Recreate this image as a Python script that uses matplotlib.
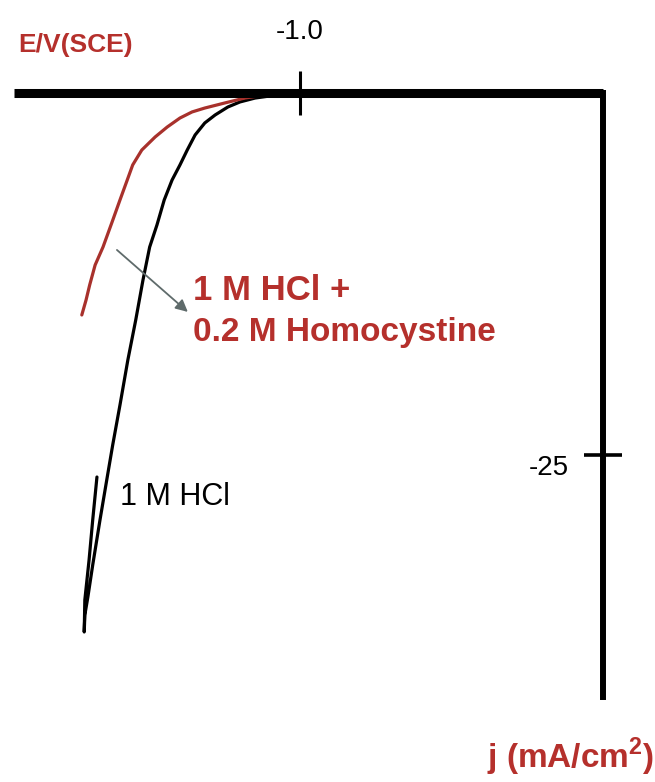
import matplotlib
matplotlib.use('Agg')
import matplotlib.pyplot as plt

# cathodic polarization curves, E in V(SCE), j in mA/cm2
E_hcl = [-1.000, -1.021, -1.050, -1.074, -1.099, -1.119, -1.140, -1.157, -1.173, -1.186,
         -1.198, -1.211, -1.224, -1.236, -1.248, -1.259, -1.271, -1.284, -1.297, -1.309,
         -1.318, -1.330, -1.342, -1.350, -1.355, -1.356,
         -1.355, -1.348, -1.342, -1.335]
j_hcl = [0.00, -0.07, -0.21, -0.35, -0.62, -0.97, -1.52, -2.07, -2.90, -3.94,
         -4.97, -6.01, -7.39, -9.12, -10.64, -12.91, -15.68, -18.44, -21.55, -24.31,
         -26.52, -29.49, -32.60, -34.81, -36.05, -37.22,
         -35.01, -32.25, -29.49, -26.52]

E_hcy = [-1.030, -1.058, -1.091, -1.124, -1.157, -1.178, -1.198, -1.219, -1.239, -1.261,
         -1.276, -1.285, -1.297, -1.310, -1.325, -1.338, -1.347, -1.353, -1.360]
j_hcy = [0.00, -0.14, -0.35, -0.69, -1.04, -1.31, -1.73, -2.35, -3.04, -3.94,
         -4.97, -6.01, -7.39, -8.91, -10.64, -11.88, -13.26, -14.30, -15.33]

E_ticks = [-1.0]
E_ticklabels = ['-1.0']
j_ticks = [-25]
j_ticklabels = ['-25']

plt.rcParams['font.family'] = ['Liberation Sans', 'DejaVu Sans']

red = '#b5302c'

fig = plt.figure(figsize=(6.55, 7.82), dpi=100)
ax = fig.add_axes([0, 0, 1, 1])
ax.set_xlim(-1.495, -0.414)
ax.set_ylim(-47.58, 6.42)

ax.plot(E_hcl, j_hcl, color='black', lw=2.3, solid_capstyle='round')
ax.plot(E_hcy, j_hcy, color='#a8312c', lw=2.3, solid_capstyle='round')

# axes cross at the top right: E axis along j = 0, j axis at E = -0.5
for s in ['bottom', 'right']:
    ax.spines[s].set_visible(False)
ax.spines['top'].set_position(('data', 0))
ax.spines['top'].set_bounds(-1.472, -0.5)
ax.spines['top'].set_linewidth(6.5)
ax.spines['top'].set_capstyle('butt')
ax.spines['left'].set_position(('data', -0.5))
ax.spines['left'].set_bounds(-41.7, 0)
ax.spines['left'].set_linewidth(4.3)

ax.xaxis.set_ticks_position('top')
ax.set_xticks(E_ticks)
ax.set_xticklabels(E_ticklabels)
ax.set_yticks(j_ticks)
ax.set_yticklabels(j_ticklabels)
ax.tick_params(axis='x', direction='inout', length=31, width=2.2, pad=19, labelsize=20)
ax.tick_params(axis='y', direction='inout', length=27, width=2.6, pad=11, labelsize=20)
for lab in ax.get_yticklabels():
    lab.set_verticalalignment('top')

ax.annotate('', xy=(-1.185, -15.12), xytext=(-1.302, -10.84),
            arrowprops=dict(arrowstyle='-|>', color='#5f6b6b', lw=1.3,
                            mutation_scale=18, shrinkA=0, shrinkB=0))


def place(px, py, s, **kw):
    fig.text(px / 655, 1 - py / 782, s, **kw)


place(18, 45, 'E/V(SCE)', color=red, fontsize=19, fontweight='bold', va='center')
place(193, 290, '1 M HCl +', color=red, fontsize=25, fontweight='bold', va='center')
place(193, 332, '0.2 M Homocystine', color=red, fontsize=24, fontweight='bold', va='center')
place(120, 497, '1 M HCl', color='black', fontsize=22, va='center')
place(487, 757, r'j (mA/cm$^{\mathregular{2}}$)', color=red, fontsize=24, fontweight='bold',
      va='center')

fig.savefig('out.png', dpi=100)
